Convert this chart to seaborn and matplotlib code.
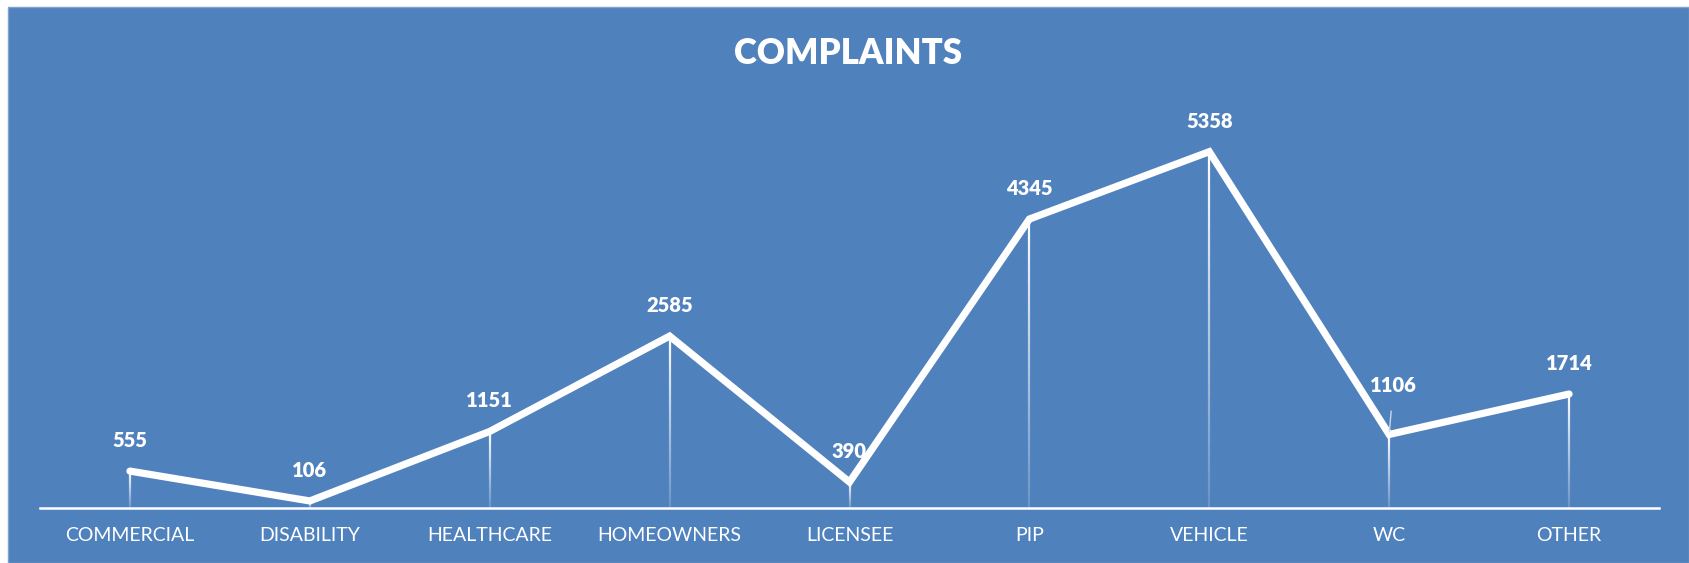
import numpy as np
import pandas as pd
import matplotlib
matplotlib.use("Agg")
import matplotlib.pyplot as plt
from matplotlib.collections import LineCollection
from matplotlib.patches import Rectangle
import seaborn as sns

categories = ["COMMERCIAL", "DISABILITY", "HEALTHCARE", "HOMEOWNERS", "LICENSEE",
              "PIP", "VEHICLE", "WC", "OTHER"]
values = [555, 106, 1151, 2585, 390, 4345, 5358, 1106, 1714]
title = "COMPLAINTS"

BLUE = "#4F81BD"

sns.set_theme(style="white")
plt.rcParams["font.family"] = ["Lato", "DejaVu Sans"]

W, H, DPI = 1689, 563, 100
fig = plt.figure(figsize=(W / DPI, H / DPI), dpi=DPI, facecolor="white")
fig.patches.append(Rectangle((8 / W, 0), 1 - 8 / W, 1 - 7 / H, transform=fig.transFigure,
                             facecolor=BLUE, edgecolor="#7FA3D0", linewidth=1.0, zorder=-10))

ax = fig.add_axes([40 / W, 1 - 508 / H, (1659 - 40) / W, (508 - 109) / H])
ax.set_facecolor("none")

df = pd.DataFrame({"category": categories, "value": values})

# gradient drop lines
segs, cols = [], []
n = 60
for i, v in enumerate(values):
    ys = np.linspace(0, v, n + 1)
    for k in range(n):
        segs.append([(i, ys[k]), (i, ys[k + 1])])
        a = 0.15 + 0.85 * (k + 0.5) / n
        cols.append((1, 1, 1, a))
lc = LineCollection(segs, colors=cols, linewidths=1.6, zorder=2)
ax.add_collection(lc)

sns.lineplot(data=df, x="category", y="value", sort=False, color="white",
             linewidth=5.2, ax=ax, zorder=3, solid_capstyle="round",
             solid_joinstyle="miter")

for i, v in enumerate(values):
    if categories[i] == "WC":
        ax.annotate(f"{v}", xy=(i, v), xytext=(3, 35), textcoords="offset points",
                    ha="center", va="center", color="white", fontsize=14.5, fontweight="heavy",
                    arrowprops=dict(arrowstyle="-", color="#C8D8EC", lw=1.0,
                                    shrinkA=9, shrinkB=2))
    else:
        ax.annotate(f"{v}", xy=(i, v), xytext=(0, 22), textcoords="offset points",
                    ha="center", va="center", color="white", fontsize=14.5, fontweight="heavy")

ax.set_xlim(-0.5, 8.5)
ax.set_ylim(0, 6000)
for s in ["top", "right", "left"]:
    ax.spines[s].set_visible(False)
ax.spines["bottom"].set_color("white")
ax.spines["bottom"].set_linewidth(1.8)
ax.set_yticks([])
ax.set_xlabel("")
ax.set_ylabel("")
ax.tick_params(axis="x", length=0, pad=14, labelsize=14, labelcolor="white")

fig.text(848 / W, 1 - 54 / H, title, ha="center", va="center", color="white",
         fontsize=25, fontweight="heavy")

fig.savefig("out.png", dpi=DPI, facecolor=fig.get_facecolor())
